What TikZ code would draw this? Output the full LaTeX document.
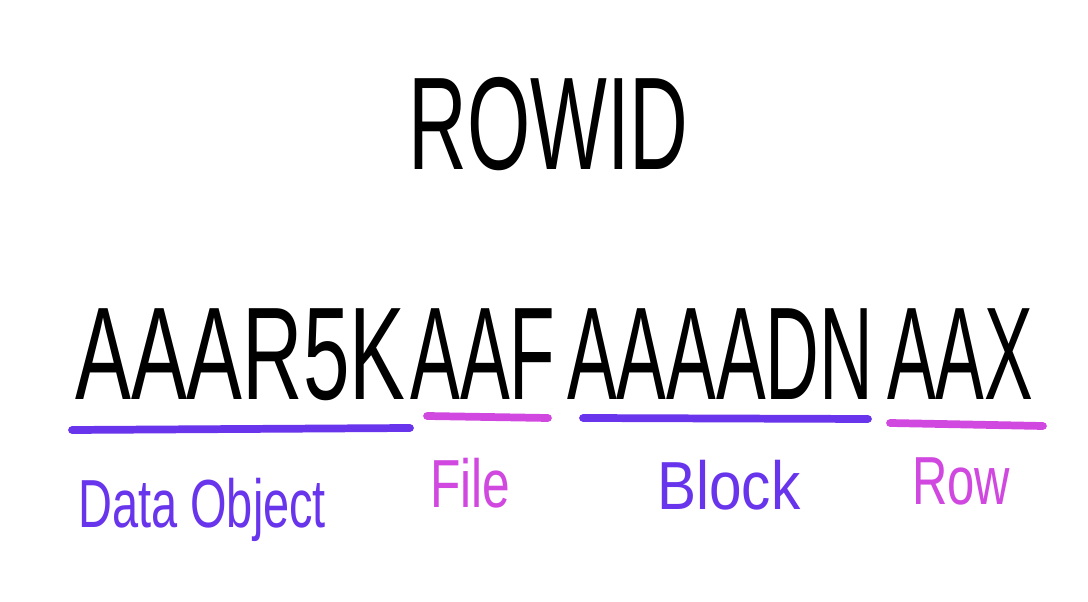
\documentclass[tikz,border=0pt]{standalone}
\usepackage{fontspec}
\setmainfont{Liberation Sans}
\usetikzlibrary{positioning}

\definecolor{objpurple}{RGB}{104,52,236}
\definecolor{rowpink}{RGB}{208,72,224}

\begin{document}
\begin{tikzpicture}[
      x=0.025cm, y=-0.025cm,
      big/.style={anchor=base west, inner sep=0pt, font=\fontsize{3.3cm}{3.6cm}\selectfont},
      tag/.style={anchor=base west, inner sep=0pt, font=\fontsize{1.7cm}{2cm}\selectfont},
      ulpurple/.style={objpurple, line width=5.5pt, line cap=round},
      ulpink/.style={rowpink, line width=5.5pt, line cap=round}
  ]
    \useasboundingbox[fill=white] (0,0) rectangle (1088,602);

    \node[big] (title) at (408,170) {\scalebox{0.616}[1]{ROWID}};

    % the id, split in its four parts
    \node[big] (obj) at (75,400) {\scalebox{0.634}[1]{AAAR5K}};
    \node[big] (file) at (410,400) {\scalebox{0.565}[1]{AAF}};
    \node[big] (blk) at (567,400) {\scalebox{0.564}[1]{AAAADN}};
    \node[big] (row) at (887,400) {\scalebox{0.553}[1]{AAX}};

    \draw[ulpurple] (72,430) -- (410,428);
    \draw[ulpink] (427,416) -- (548,418);
    \draw[ulpurple] (583,418) -- (868,419);
    \draw[ulpink] (890,423) -- (1043,426);

    \node[tag, text=objpurple] (objtag) at (78,528) {\scalebox{0.69}[1]{Data Object}};
    \node[tag, text=rowpink] (filetag) at (430,508) {\scalebox{0.73}[1]{File}};
    \node[tag, text=objpurple] (blktag) at (657,510) {\scalebox{0.86}[1]{Block}};
    \node[tag, text=rowpink] (rowtag) at (912,505) {\scalebox{0.72}[1]{Row}};
  \end{tikzpicture}
\end{document}
